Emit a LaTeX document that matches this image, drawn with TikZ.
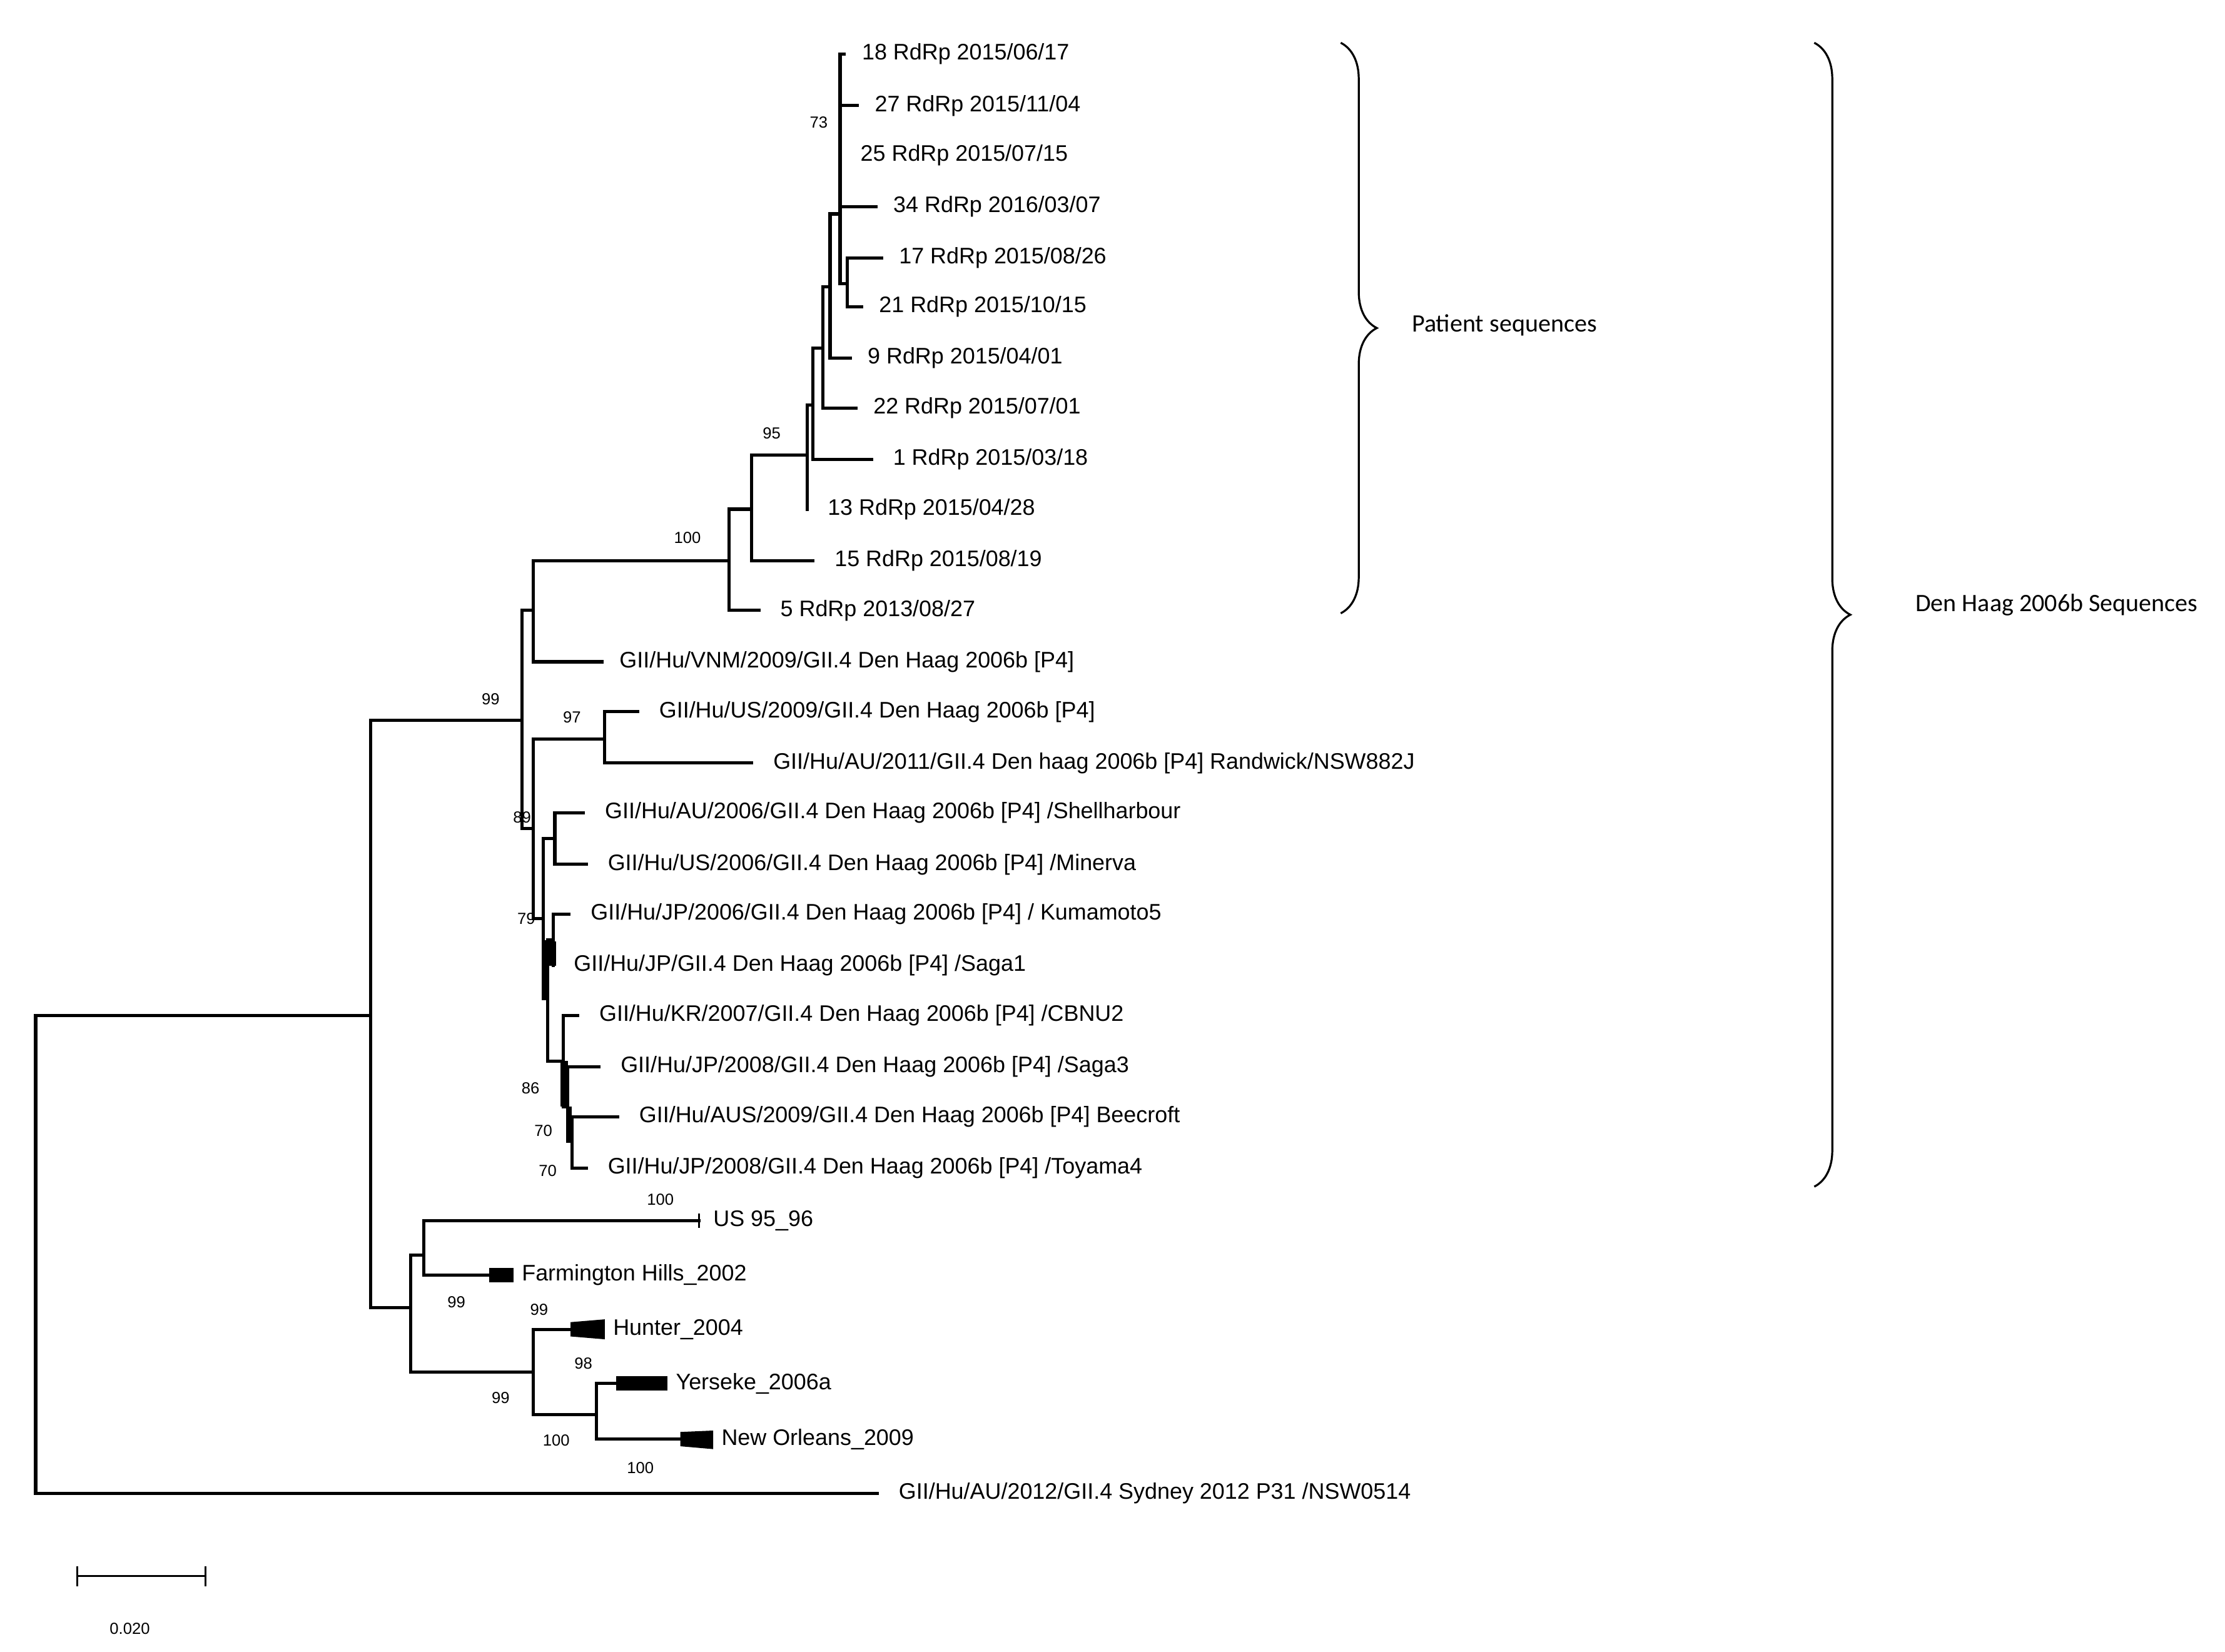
\documentclass[tikz,border=0pt]{standalone}
\usepackage{fontspec}
\setmainfont{Liberation Sans}
\newfontfamily\calib{Carlito}
\usetikzlibrary{decorations.pathreplacing}
\tikzset{
  br/.style={line width=1.6pt,line cap=rect},
  leaf/.style={anchor=west,inner sep=0pt,font=\fontsize{11.2}{13}\selectfont},
  boot/.style={inner sep=0pt,font=\fontsize{8}{9}\selectfont},
  wedge/.style={fill=black,draw=none}
}
\begin{document}
\begin{tikzpicture}[x=0.025cm,y=-0.025cm]
\useasboundingbox (0,0) rectangle (1560,1158);
% patient clade
\draw[br] (374,393) -- (511,393);
\draw[br] (511,357) -- (511,428);
\draw[br] (511,428) -- (532,428) node[leaf,xshift=10pt] (p5) {5 RdRp 2013/08/27};
\draw[br] (511,357) -- (527,357);
\draw[br] (527,319) -- (527,393);
\draw[br] (527,393) -- (570,393) node[leaf,xshift=10pt] (p15) {15 RdRp 2015/08/19};
\draw[br] (527,319) -- (566,319);
\draw[br] (566,284) -- (566,357);
\node[leaf,xshift=10pt] (p13) at (566,357) {13 RdRp 2015/04/28};
\draw[br] (566,284) -- (570,284);
\draw[br] (570,244) -- (570,322);
\draw[br] (570,322) -- (611,322) node[leaf,xshift=10pt] (p1) {1 RdRp 2015/03/18};
\draw[br] (570,244) -- (577,244);
\draw[br] (577,201) -- (577,286);
\draw[br] (577,286) -- (600,286) node[leaf,xshift=8pt] (p22) {22 RdRp 2015/07/01};
\draw[br] (577,201) -- (582,201);
\draw[br] (582,150) -- (582,251);
\draw[br] (582,251) -- (596,251) node[leaf,xshift=8pt] (p9) {9 RdRp 2015/04/01};
\draw[br] (582,150) -- (589,150);
\draw[br] (589,38) -- (589,199);
\draw[br] (589,38) -- (592,38) node[leaf,xshift=8pt] (p18) {18 RdRp 2015/06/17};
\draw[br] (589,74) -- (601,74) node[leaf,xshift=8pt] (p27) {27 RdRp 2015/11/04};
\node[leaf,xshift=10pt] (p25) at (589,109) {25 RdRp 2015/07/15};
\draw[br] (589,145) -- (614,145) node[leaf,xshift=8pt] (p34) {34 RdRp 2016/03/07};
\draw[br] (589,199) -- (594,199);
\draw[br] (594,181) -- (594,215);
\draw[br] (594,181) -- (618,181) node[leaf,xshift=8pt] (p17) {17 RdRp 2015/08/26};
\draw[br] (594,215) -- (604,215) node[leaf,xshift=8pt] (p21) {21 RdRp 2015/10/15};
% Den Haag 2006b references
\draw[br] (374,393) -- (374,464);
\draw[br] (374,464) -- (422,464) node[leaf,xshift=8pt] (vnm) {GII/Hu/VNM/2009/GII.4 Den Haag 2006b [P4]};
\draw[br] (366,428) -- (374,428);
\draw[br] (260,505) -- (366,505);
\draw[br] (366,428) -- (366,581);
\draw[br] (366,581) -- (374,581);
\draw[br] (374,518) -- (374,644);
\draw[br] (374,518) -- (424,518);
\draw[br] (424,499) -- (424,535);
\draw[br] (424,499) -- (447,499) node[leaf,xshift=10pt] (us09) {GII/Hu/US/2009/GII.4 Den Haag 2006b [P4]};
\draw[br] (424,535) -- (527,535) node[leaf,xshift=10pt] (au11) {GII/Hu/AU/2011/GII.4 Den haag 2006b [P4] Randwick/NSW882J};
\draw[br] (374,644) -- (381,644);
\draw[br] (381,588) -- (381,700);
\draw[br] (381,588) -- (389,588);
\draw[br] (389,570) -- (389,606);
\draw[br] (389,570) -- (409,570) node[leaf,xshift=10pt] (au06) {GII/Hu/AU/2006/GII.4 Den Haag 2006b [P4] /Shellharbour};
\draw[br] (389,606) -- (411,606) node[leaf,xshift=10pt] (us06) {GII/Hu/US/2006/GII.4 Den Haag 2006b [P4] /Minerva};
\draw[br] (381,700) -- (384,700);
\draw[br] (384,659) -- (384,744);
\fill (380,659) rectangle (385,700);
\draw[br] (384,659) -- (388,659);
\draw[br] (388,641) -- (388,677);
\fill (385,660) rectangle (390,677);
\draw[br] (388,641) -- (399,641) node[leaf,xshift=10pt] (jp06) {GII/Hu/JP/2006/GII.4 Den Haag 2006b [P4] / Kumamoto5};
\node[leaf,xshift=10pt] (saga1) at (388,677) {GII/Hu/JP/GII.4 Den Haag 2006b [P4] /Saga1};
\draw[br] (384,744) -- (395,744);
\draw[br] (395,712) -- (395,776);
\fill (393,744) rectangle (398,776);
\draw[br] (395,712) -- (405,712) node[leaf,xshift=10pt] (kr07) {GII/Hu/KR/2007/GII.4 Den Haag 2006b [P4] /CBNU2};
\draw[br] (395,776) -- (398,776);
\draw[br] (398,748) -- (398,800);
\fill (397,776) rectangle (401,800);
\draw[br] (398,748) -- (420,748) node[leaf,xshift=10pt] (jp08) {GII/Hu/JP/2008/GII.4 Den Haag 2006b [P4] /Saga3};
\draw[br] (398,800) -- (401,800);
\draw[br] (401,783) -- (401,819);
\draw[br] (401,783) -- (433,783) node[leaf,xshift=10pt] (aus09) {GII/Hu/AUS/2009/GII.4 Den Haag 2006b [P4] Beecroft};
\draw[br] (401,819) -- (411,819) node[leaf,xshift=10pt] (toy) {GII/Hu/JP/2008/GII.4 Den Haag 2006b [P4] /Toyama4};
% older GII.4 variants
\draw[br] (25,712) -- (260,712);
\draw[br] (260,505) -- (260,917);
\draw[br] (260,917) -- (288,917);
\draw[br] (288,880) -- (288,962);
\draw[br] (288,880) -- (297,880);
\draw[br] (297,856) -- (297,894);
\draw[br] (297,856) -- (490,856);
\draw[line width=1pt] (490,851) -- (490,861);
\node[leaf,xshift=7pt] (us95) at (490,856) {US 95\_96};
\draw[br] (297,894) -- (343,894);
\fill (343,889) rectangle (360,899);
\node[leaf,xshift=4pt] (farm) at (360,894) {Farmington Hills\_2002};
\draw[br] (288,962) -- (374,962);
\draw[br] (374,932) -- (374,992);
\draw[br] (374,932) -- (400,932);
\fill (400,927) -- (424,925) -- (424,939) -- (400,937) -- cycle;
\node[leaf,xshift=4pt] (hunter) at (424,932) {Hunter\_2004};
\draw[br] (374,992) -- (418,992);
\draw[br] (418,970) -- (418,1009);
\draw[br] (418,970) -- (432,970);
\fill (432,965) rectangle (468,975);
\node[leaf,xshift=4pt] (yer) at (468,970) {Yerseke\_2006a};
\draw[br] (418,1009) -- (477,1009);
\fill (477,1004) -- (500,1003) -- (500,1016) -- (477,1014) -- cycle;
\node[leaf,xshift=4pt] (nola) at (500,1009) {New Orleans\_2009};
% outgroup
\draw[br] (25,712) -- (25,1047);
\draw[br] (25,1047) -- (615,1047) node[leaf,xshift=10pt] (syd) {GII/Hu/AU/2012/GII.4 Sydney 2012 P31 /NSW0514};
% bootstrap values
\node[boot] at (574,86) {73};
\node[boot] at (541,304) {95};
\node[boot] at (482,377) {100};
\node[boot] at (344,490) {99};
\node[boot] at (401,503) {97};
\node[boot] at (366,573) {89};
\node[boot] at (369,644) {79};
\node[boot] at (372,763) {86};
\node[boot] at (381,793) {70};
\node[boot] at (384,821) {70};
\node[boot] at (463,841) {100};
\node[boot] at (320,913) {99};
\node[boot] at (378,918) {99};
\node[boot] at (409,956) {98};
\node[boot] at (351,980) {99};
\node[boot] at (390,1010) {100};
\node[boot] at (449,1029) {100};
% scale bar
\draw[line width=1pt] (54,1105) -- (144,1105);
\draw[line width=1pt] (54,1098) -- (54,1112);
\draw[line width=1pt] (144,1098) -- (144,1112);
\node[boot] at (91,1142) {0.020};
% brackets
\draw[line width=1pt,decorate,decoration={brace,amplitude=18pt,aspect=0.5}] (940,30) -- (940,430) node[coordinate,pos=0.5] (pmid) {};
\node[anchor=west,font=\calib\fontsize{12.5}{14}\selectfont] (patlab) at (985,228) {Patient sequences};
\draw[line width=1pt,decorate,decoration={brace,amplitude=18pt,aspect=0.5}] (1272,30) -- (1272,832);
\node[anchor=west,font=\calib\fontsize{12.5}{14}\selectfont] (dhlab) at (1338,424) {Den Haag 2006b Sequences};
\end{tikzpicture}
\end{document}
